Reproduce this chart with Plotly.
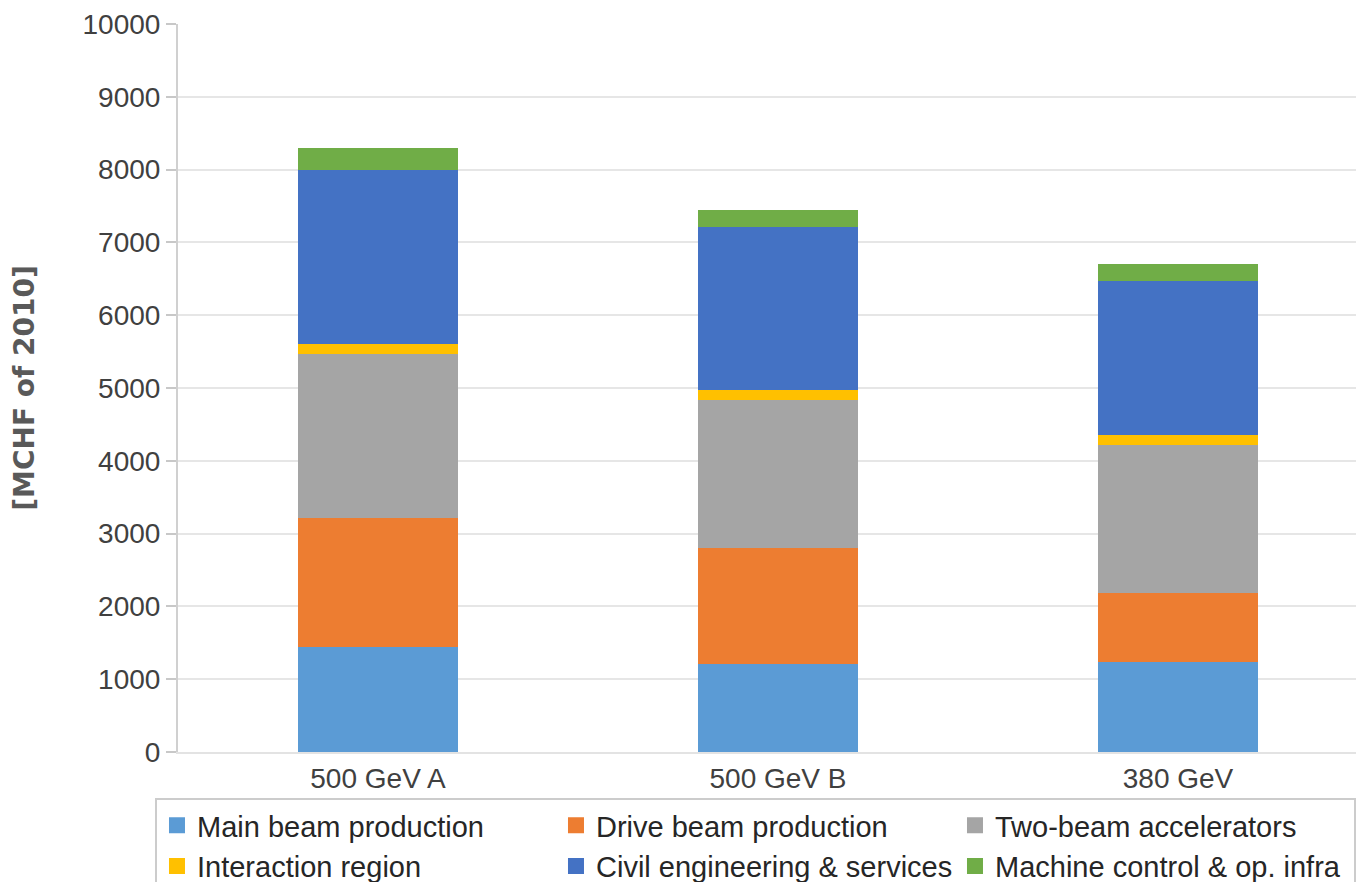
import plotly.graph_objects as go

# 成本分解（MCHF，2010年价格）
scenarios = ['500 GeV A', '500 GeV B', '380 GeV']
series_names = [
    'Main beam production',
    'Drive beam production',
    'Two-beam accelerators',
    'Interaction region',
    'Civil engineering & services',
    'Machine control & op. infra',
]
main_beam = [1444, 1208, 1240]
drive_beam = [1771, 1589, 944]
two_beam = [2252, 2044, 2035]
interaction_region = [137, 128, 131]
civil_engineering = [2397, 2242, 2117]
machine_control = [292, 228, 232]

colors = ['#5B9BD5', '#ED7D31', '#A5A5A5', '#FFC000', '#4472C4', '#70AD47']
values = [main_beam, drive_beam, two_beam, interaction_region,
          civil_engineering, machine_control]

font_family = 'Liberation Sans, Arial, sans-serif'

fig = go.Figure()

for name, vals, color in zip(series_names, values, colors):
    fig.add_trace(go.Bar(
        x=scenarios,
        y=vals,
        name=name,
        legendgroup=name,
        showlegend=False,
        marker=dict(color=color, line=dict(width=0)),
    ))

# 图例用方形标记（柱状图的图例方块太小）
for name, color in zip(series_names, colors):
    fig.add_trace(go.Scatter(
        x=[None], y=[None],
        mode='markers',
        name=name,
        legendgroup=name,
        marker=dict(symbol='square', size=16, color=color),
    ))

# 页面 body 有 8px 外边距，这里按此缩小画布
fig.update_layout(
    barmode='stack',
    bargap=0.6,
    width=1356,
    height=874,
    margin=dict(l=170, r=0, t=16, b=130, autoexpand=False),
    plot_bgcolor='white',
    paper_bgcolor='white',
    font=dict(family=font_family, size=28, color='#404040'),
    xaxis=dict(
        range=[-0.5, 2.465],
        showgrid=False,
        showline=True,
        linecolor='#e3e3e3',
        linewidth=2,
        ticks='',
        tickfont=dict(size=28, color='#404040'),
    ),
    yaxis=dict(
        range=[0, 10000],
        dtick=1000,
        tickformat='d',
        ticklabeloverflow='allow',
        showgrid=True,
        gridcolor='#e6e6e6',
        gridwidth=2,
        zeroline=False,
        showline=True,
        linecolor='#d0d0d0',
        linewidth=2,
        ticks='outside',
        ticklen=10,
        tickwidth=2,
        tickcolor='#c8c8c8',
        tickfont=dict(size=28, color='#404040'),
        title=dict(
            text='<b>[MCHF of 2010]</b>',
            font=dict(family='DejaVu Sans', size=28, color='#595959'),
            standoff=50,
        ),
    ),
    legend=dict(
        orientation='h',
        x=-0.0194,
        xanchor='left',
        y=-0.063,
        yanchor='top',
        bordercolor='#cccccc',
        borderwidth=2,
        entrywidth=354,
        entrywidthmode='pixels',
        font=dict(size=29, color='#262626'),
        traceorder='normal',
    ),
)

fig.write_html("out.html")
